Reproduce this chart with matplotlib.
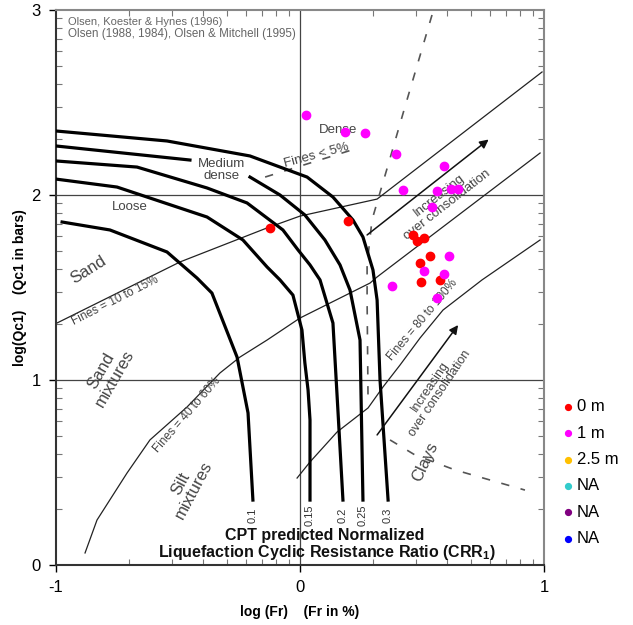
import numpy as np
import matplotlib.pyplot as plt
from matplotlib.ticker import FixedLocator

plt.rcParams['font.family'] = ['Liberation Sans', 'DejaVu Sans']
plt.rcParams['axes.unicode_minus'] = False

# puntos CPT por profundidad: log(Fr) , log(Qc1)
fr_0m = [-0.123, 0.197, 0.463, 0.480, 0.508, 0.533, 0.492, 0.496, 0.574]
qc_0m = [1.822, 1.859, 1.784, 1.751, 1.768, 1.670, 1.632, 1.530, 1.541]
fr_1m = [0.025, 0.184, 0.266, 0.393, 0.590, 0.422, 0.561, 0.619, 0.648,
         0.541, 0.611, 0.508, 0.590, 0.377, 0.561]
qc_1m = [2.432, 2.341, 2.335, 2.222, 2.157, 2.027, 2.022, 2.032, 2.032,
         1.935, 1.670, 1.589, 1.573, 1.508, 1.443]

serie_labels = ['0 m', '1 m', '2.5 m', 'NA', 'NA', 'NA']
serie_colors = ['red', 'magenta', '#FFC000', '#33CCCC', '#800080', 'blue']

# curvas CRR1 (Olsen)
crr_labels = ['0.1', '0.15', '0.2', '0.25', '0.3']
crr_01_x = [-0.975, -0.779, -0.545, -0.422, -0.361, -0.258, -0.213, -0.193]
crr_01_y = [1.854, 1.811, 1.692, 1.551, 1.470, 1.124, 0.822, 0.351]
crr_015_x = [-1.0, -0.75, -0.381, -0.234, -0.135, -0.082, -0.029, 0.008, 0.020, 0.033, 0.041, 0.041]
crr_015_y = [2.086, 2.043, 1.881, 1.757, 1.611, 1.541, 1.459, 1.270, 1.092, 0.946, 0.784, 0.351]
crr_02_x = [-1.0, -0.668, -0.381, -0.217, -0.070, -0.008, 0.041, 0.082, 0.135, 0.156, 0.176]
crr_02_y = [2.184, 2.151, 2.038, 1.957, 1.811, 1.703, 1.622, 1.541, 1.308, 0.822, 0.351]
crr_025_x = [-1.0, -0.451, np.nan, -0.205, -0.082, 0.020, 0.102, 0.164, 0.205, 0.246, 0.258]
crr_025_y = [2.265, 2.189, np.nan, 2.097, 2.0, 1.892, 1.757, 1.622, 1.486, 1.216, 0.351]
crr_03_x = [-1.0, -0.545, -0.205, 0.029, 0.135, 0.217, 0.258, 0.299, 0.316, 0.328, 0.361]
crr_03_y = [2.346, 2.292, 2.211, 2.097, 1.989, 1.865, 1.773, 1.595, 1.432, 1.0, 0.351]

# limites de finos
finos_10_x = [-0.996, -0.492, -0.135, 0.0, 0.316, 0.992]
finos_10_y = [1.308, 1.638, 1.822, 1.886, 1.978, 2.665]
finos_40_x = [-0.881, -0.832, -0.709, -0.615, -0.463, -0.328, -0.246, -0.135, 0.0, 0.287, 0.316, 0.984]
finos_40_y = [0.065, 0.243, 0.497, 0.676, 0.854, 1.038, 1.124, 1.216, 1.335, 1.524, 1.557, 2.227]
finos_80_x = [-0.012, 0.041, 0.152, 0.279, 0.340, 0.410, 0.492, 0.586, 0.746, 0.984]
finos_80_y = [0.470, 0.557, 0.719, 0.849, 0.962, 1.081, 1.227, 1.378, 1.541, 1.757]

# lineas a trazos
finos_5_x = [-0.143, 0.238]
finos_5_y = [2.097, 2.254]
denso_x = [0.541, 0.430, 0.361, 0.295, 0.275, 0.275, 0.279]
denso_y = [2.973, 2.476, 2.162, 1.865, 1.622, 1.432, 0.876]
arcilla_x = [0.369, 0.471, 0.635, 0.922]
arcilla_y = [0.676, 0.595, 0.514, 0.405]

fig = plt.figure(figsize=(6.33, 6.25), dpi=100)
ax = fig.add_axes([56 / 633, 60 / 625, 488 / 633, 555 / 625])
ax.set_xlim(-1, 1)
ax.set_ylim(0, 3)

ax.axvline(0, color='#444', lw=0.9, zorder=1)
ax.axhline(1, color='#444', lw=0.9, zorder=1)
ax.axhline(2, color='#444', lw=0.9, zorder=1)

crr_x = [crr_01_x, crr_015_x, crr_02_x, crr_025_x, crr_03_x]
crr_y = [crr_01_y, crr_015_y, crr_02_y, crr_025_y, crr_03_y]
for cx, cy, lab in zip(crr_x, crr_y, crr_labels):
    ax.plot(cx, cy, color='black', lw=2.3, zorder=3, solid_joinstyle='miter')
    ax.text(cx[-1], 0.27, lab, rotation=90, ha='center', va='center',
            fontsize=8, color='#333')

for fx, fy in [(finos_10_x, finos_10_y), (finos_40_x, finos_40_y), (finos_80_x, finos_80_y)]:
    ax.plot(fx, fy, color='#222', lw=0.9, zorder=2)

for dx, dy in [(finos_5_x, finos_5_y), (denso_x, denso_y), (arcilla_x, arcilla_y)]:
    ax.plot(dx, dy, color='#555', lw=1.2, dashes=(5, 7), zorder=2)

ax.annotate('', xy=(0.773, 2.30), xytext=(0.275, 1.784),
            arrowprops=dict(arrowstyle='-|>', color='#111', lw=1.1, mutation_scale=13,
                            shrinkA=0, shrinkB=0))
ax.annotate('', xy=(0.648, 1.297), xytext=(0.316, 0.703),
            arrowprops=dict(arrowstyle='-|>', color='#111', lw=1.1, mutation_scale=13,
                            shrinkA=0, shrinkB=0))

txt = '#444'
ax.text(-0.951, 2.933, 'Olsen, Koester & Hynes (1996)', fontsize=8, color='#666', va='center')
ax.text(-0.951, 2.872, 'Olsen (1988, 1984), Olsen & Mitchell (1995)', fontsize=8.4, color='#666', va='center')
ax.text(0.156, 2.351, 'Dense', fontsize=9.5, color=txt, ha='center', va='center')
ax.text(0.066, 2.216, 'Fines < 5%', fontsize=9.5, color=txt, ha='center', va='center', rotation=15)
ax.text(-0.320, 2.135, 'Medium\ndense', fontsize=9.5, color=txt, ha='center', va='center', linespacing=1.1)
ax.text(-0.697, 1.935, 'Loose', fontsize=9.5, color=txt, ha='center', va='center')
ax.text(-0.869, 1.595, 'Sand', fontsize=12, color=txt, ha='center', va='center', rotation=32)
ax.text(-0.758, 1.430, 'Fines = 10 to 15%', fontsize=8.5, color=txt, ha='center', va='center', rotation=27)
ax.text(-0.787, 1.027, 'Sand\nmixtures', fontsize=12, color=txt, ha='center', va='center', rotation=60,
        linespacing=1.0)
ax.text(-0.463, 0.811, 'Fines = 40 to 60%', fontsize=8.5, color=txt, ha='center', va='center', rotation=49)
ax.text(-0.463, 0.422, 'Silt\nmixtures', fontsize=12, color=txt, ha='center', va='center', rotation=62,
        linespacing=1.0)
ax.text(0.512, 0.557, 'Clays', fontsize=12, color=txt, ha='center', va='center', rotation=65)
ax.text(0.586, 1.973, 'Increasing\nover consolidation', fontsize=9.5, color=txt, ha='center', va='center',
        rotation=38, linespacing=1.0)
ax.text(0.553, 0.946, 'Increasing\nover consolidation', fontsize=9, color=txt, ha='center', va='center',
        rotation=56, linespacing=1.0)
ax.text(0.50, 1.324, 'Fines = 80 to 100%', fontsize=8.5, color=txt, ha='center', va='center', rotation=50)
ax.text(0.102, 0.162, 'CPT predicted Normalized', fontsize=11.5, fontweight='bold', color='#111',
        ha='center', va='center')
ax.text(0.111, 0.065, 'Liquefaction Cyclic Resistance Ratio (CRR$_\\mathregular{1}$)', fontsize=11.5,
        fontweight='bold', color='#111', ha='center', va='center')

# series
ax.scatter(fr_0m, qc_0m, s=36, color=serie_colors[0], zorder=5, label=serie_labels[0])
ax.scatter(fr_1m, qc_1m, s=36, color=serie_colors[1], zorder=5, label=serie_labels[1])
for lab, col in zip(serie_labels[2:], serie_colors[2:]):
    ax.scatter([], [], s=36, color=col, label=lab)

ax.legend(loc='upper left', bbox_to_anchor=(551 / 633, 1 - 391 / 625), bbox_transform=fig.transFigure,
          frameon=False, fontsize=12, handletextpad=0.05, labelspacing=0.68, markerscale=0.7,
          borderpad=0, handlelength=1.0)

ax.set_xticks([-1, 0, 1])
ax.set_yticks([0, 1, 2, 3])
ax.xaxis.set_minor_locator(FixedLocator([n + np.log10(k) for n in (-1, 0) for k in range(2, 10)]))
ax.yaxis.set_minor_locator(FixedLocator([n + np.log10(k) for n in (0, 1, 2) for k in range(2, 10)]))
ax.tick_params(which='major', direction='out', length=5, width=1, labelsize=12, pad=6)
ax.tick_params(which='minor', direction='in', length=4, width=0.8, color='#777',
               top=True, right=True, bottom=True, left=True)

for s in ['left', 'bottom']:
    ax.spines[s].set_color('#333')
    ax.spines[s].set_linewidth(1.5)
for s in ['top', 'right']:
    ax.spines[s].set_color('#888')
    ax.spines[s].set_linewidth(1.5)

ax.set_xlabel('log (Fr)    (Fr in %)', fontsize=10, fontweight='bold', labelpad=7)
ax.set_ylabel('log(Qc1)    (Qc1 in bars)', fontsize=10, fontweight='bold', labelpad=3)

fig.savefig('out.png', dpi=100)
